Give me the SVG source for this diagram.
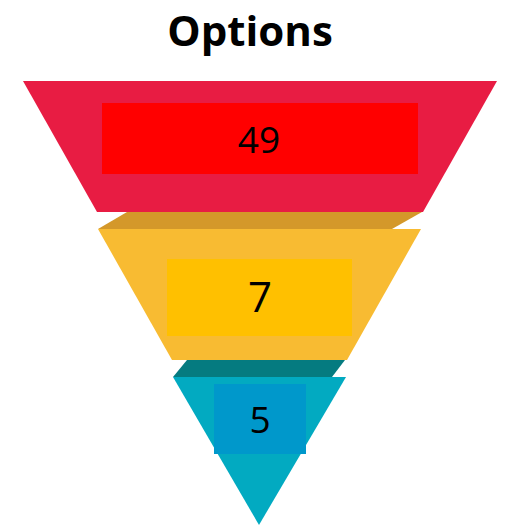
<svg xmlns="http://www.w3.org/2000/svg" width="508" height="527" viewBox="0 0 508 527">
<style>
.num{font-family:"Open Sans","Liberation Sans",sans-serif;fill:#000;text-anchor:middle}
.title{font-family:"Open Sans","Liberation Sans",sans-serif;font-weight:bold;font-size:42px;fill:#000;text-anchor:middle}
</style>
<rect width="508" height="527" fill="#fff"/>
<text class="title" x="250" y="45.5">Options</text>
<g id="stage3">
<polygon points="187,360 345,360 332,377 173,377" fill="#057B80"/>
<polygon points="173,377 346,377 259,525" fill="#02AAC1"/>
<rect x="214" y="384" width="92" height="70" fill="#0098CB"/>
<text class="num" x="260" y="433" font-size="37">5</text>
</g>
<g id="stage2">
<polygon points="127,212 422,212 392,229 98,229" fill="#D4982A"/>
<polygon points="98,229 421,229 347,360 172,360" fill="#F8BB32"/>
<rect x="167" y="259" width="185" height="77" fill="#FFC000"/>
<text class="num" x="260" y="312" font-size="42">7</text>
</g>
<g id="stage1">
<polygon points="23,81 497,81 423,212 97,212" fill="#E81C43"/>
<rect x="102" y="103" width="316" height="71" fill="#FF0000"/>
<text class="num" x="259" y="153" font-size="37">49</text>
</g>
</svg>
